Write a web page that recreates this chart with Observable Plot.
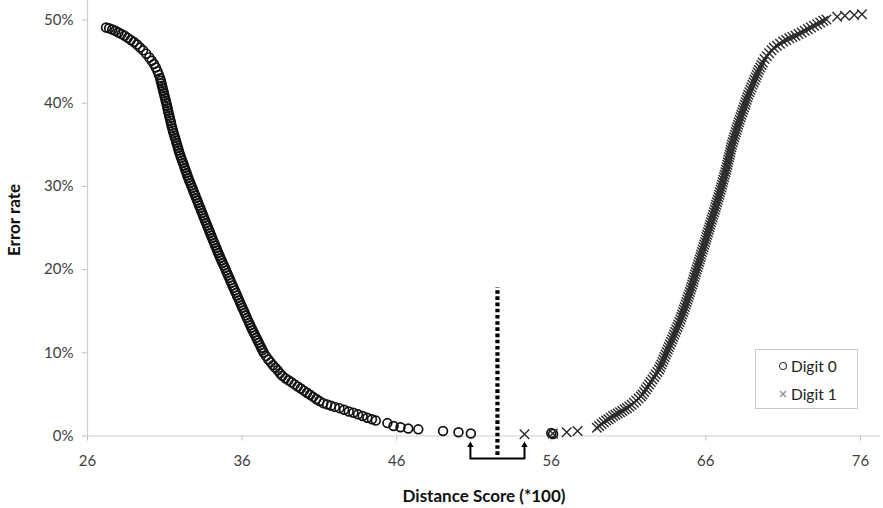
<!DOCTYPE html>
<html>
<head>
<meta charset="utf-8">
<script src="https://cdn.jsdelivr.net/npm/d3@7"></script>
<script src="https://cdn.jsdelivr.net/npm/@observablehq/plot@0.6"></script>
<style>
  html, body { margin: 0; padding: 0; background: #fff; }
  #wrap { position: relative; width: 883px; height: 508px; font-family: Lato, "Open Sans", sans-serif; }
  #wrap svg.plot { position: absolute; left: 0; top: 0; }
  .ytitle { position: absolute; left: 13px; top: 220px; transform: translate(-50%, -50%) rotate(-90deg); font-weight: 700; font-size: 17px; color: #111; white-space: nowrap; }
  .xtitle { position: absolute; left: 484px; top: 495px; transform: translate(-50%, -50%); font-weight: 700; font-size: 17px; color: #111; white-space: nowrap; }
  .legend { position: absolute; left: 755px; top: 349px; width: 101px; height: 58px; border: 1px solid #c8c8c8; background: #fff; }
  .legend .row { position: absolute; left: 22px; font-size: 15.5px; color: #222; display: flex; align-items: center; gap: 3px; }
</style>
</head>
<body>
<div id="wrap"></div>
<script>
// ---- data (x = distance score *100, y = error rate in %) ----
const digit0Points = [
  [27.2,49.1],[27.4,49.0],[27.6,48.85],[27.8,48.7],[28.0,48.5],[28.2,48.3],[28.4,48.1],[28.6,47.85],[28.8,47.6],[29.0,47.35],
  [29.2,47.05],[29.4,46.7],[29.6,46.35],[29.8,45.95],[30.0,45.5],[30.15,45.1],[30.3,44.7],[30.42,44.3],[30.53,43.85],[30.62,43.4],
  [30.70,43.0],[30.74,42.7],[30.78,42.4],[30.82,42.1],[30.86,41.8],[30.90,41.5],[30.94,41.2],[30.98,40.9],[31.02,40.6],[31.06,40.3],
  [31.10,40.0],[31.14,39.7],[31.18,39.4],[31.21,39.1],[31.25,38.8],[31.29,38.5],[31.33,38.2],[31.37,37.9],[31.40,37.6],[31.44,37.3],
  [31.48,37.0],[31.53,36.7],[31.57,36.4],[31.62,36.1],[31.67,35.8],[31.72,35.5],[31.76,35.2],[31.81,34.9],[31.86,34.6],[31.90,34.3],
  [31.95,34.0],[32.01,33.7],[32.06,33.4],[32.12,33.1],[32.18,32.8],[32.24,32.5],[32.29,32.2],[32.35,31.9],[32.41,31.6],[32.46,31.3],
  [32.52,31.0],[32.58,30.7],[32.65,30.4],[32.71,30.1],[32.78,29.8],[32.84,29.5],[32.90,29.2],[32.97,28.9],[33.03,28.6],[33.10,28.3],
  [33.16,28.0],[33.22,27.7],[33.29,27.4],[33.35,27.1],[33.42,26.8],[33.48,26.5],[33.54,26.2],[33.61,25.9],[33.67,25.6],[33.74,25.3],
  [33.80,25.0],[33.87,24.7],[33.93,24.4],[34.00,24.1],[34.06,23.8],[34.13,23.5],[34.20,23.2],[34.26,22.9],[34.33,22.6],[34.39,22.3],
  [34.46,22.0],[34.53,21.7],[34.60,21.4],[34.67,21.1],[34.74,20.8],[34.82,20.5],[34.89,20.2],[34.96,19.9],[35.03,19.6],[35.10,19.3],
  [35.17,19.0],[35.24,18.7],[35.31,18.4],[35.38,18.1],[35.45,17.8],[35.53,17.5],[35.60,17.2],[35.67,16.9],[35.74,16.6],[35.81,16.3],
  [35.88,16.0],[35.95,15.7],[36.02,15.4],[36.10,15.1],[36.17,14.8],[36.24,14.5],[36.31,14.2],[36.38,13.9],[36.46,13.6],[36.53,13.3],
  [36.60,13.0],[36.68,12.7],[36.76,12.4],[36.84,12.1],[36.92,11.8],[37.00,11.5],[37.08,11.2],[37.16,10.9],[37.24,10.6],[37.32,10.3],
  [37.40,10.0],[37.55,9.6],[37.7,9.2],[37.85,8.85],[38.0,8.5],[38.15,8.2],[38.3,7.9],[38.45,7.55],[38.6,7.25],[38.8,6.95],
  [39.0,6.7],[39.2,6.45],[39.4,6.2],[39.6,5.95],[39.8,5.7],[40.0,5.45],[40.2,5.2],[40.4,4.95],[40.6,4.7],[40.8,4.45],
  [41.0,4.2],[41.25,3.95],[41.5,3.8],[41.75,3.65],[42.0,3.5],[42.3,3.35],[42.6,3.15],[42.9,2.95],[43.2,2.8],[43.5,2.6],
  [43.8,2.4],[44.1,2.2],[44.4,2.0],[44.65,1.85],
  [45.4,1.55],[45.8,1.2],[46.25,1.05],[46.75,0.9],[47.4,0.8],[49.0,0.6],[50.0,0.45],[50.8,0.3],[56.0,0.35],[56.12,0.25]
];

const digit1Points = [
  [54.27,0.2],[56.1,0.3],[57.0,0.45],[57.7,0.6],[58.95,1.0],[59.1,1.2],[59.25,1.45],[59.4,1.65],[59.55,1.85],[59.7,2.0],
  [59.85,2.2],[60.0,2.4],[60.15,2.55],[60.3,2.7],[60.45,2.85],[60.6,3.0],[60.75,3.2],[60.9,3.35],[61.05,3.55],[61.2,3.75],
  [61.35,4.0],[61.5,4.25],[61.65,4.5],[61.8,4.75],
  [61.90,5.0],[62.01,5.3],[62.12,5.6],[62.22,5.9],[62.33,6.2],[62.44,6.5],[62.55,6.8],[62.66,7.1],[62.76,7.4],[62.87,7.7],
  [62.98,8.0],[63.05,8.3],[63.12,8.6],[63.19,8.9],[63.26,9.2],[63.33,9.5],[63.40,9.8],[63.47,10.1],[63.54,10.4],[63.61,10.7],
  [63.68,11.0],[63.75,11.3],[63.82,11.6],[63.88,11.9],[63.95,12.2],[64.02,12.5],[64.09,12.8],[64.16,13.1],[64.22,13.4],[64.29,13.7],
  [64.36,14.0],[64.42,14.3],[64.47,14.6],[64.53,14.9],[64.58,15.2],[64.64,15.5],[64.70,15.8],[64.75,16.1],[64.81,16.4],[64.86,16.7],
  [64.92,17.0],[64.97,17.3],[65.02,17.6],[65.07,17.9],[65.12,18.2],[65.17,18.5],[65.21,18.8],[65.26,19.1],[65.31,19.4],[65.36,19.7],
  [65.41,20.0],[65.46,20.3],[65.51,20.6],[65.56,20.9],[65.61,21.2],[65.66,21.5],[65.70,21.8],[65.75,22.1],[65.80,22.4],[65.85,22.7],
  [65.90,23.0],[65.95,23.3],[66.00,23.6],[66.04,23.9],[66.09,24.2],[66.14,24.5],[66.19,24.8],[66.24,25.1],[66.28,25.4],[66.33,25.7],
  [66.38,26.0],[66.43,26.3],[66.48,26.6],[66.53,26.9],[66.58,27.2],[66.63,27.5],[66.67,27.8],[66.72,28.1],[66.77,28.4],[66.82,28.7],
  [66.87,29.0],[66.91,29.3],[66.96,29.6],[67.00,29.9],[67.05,30.2],[67.09,30.5],[67.13,30.8],[67.18,31.1],[67.22,31.4],[67.27,31.7],
  [67.31,32.0],[67.35,32.3],[67.39,32.6],[67.42,32.9],[67.46,33.2],[67.50,33.5],[67.54,33.8],[67.58,34.1],[67.61,34.4],[67.65,34.7],
  [67.69,35.0],[67.74,35.3],[67.79,35.6],[67.84,35.9],[67.89,36.2],[67.94,36.5],[67.99,36.8],[68.04,37.1],[68.09,37.4],[68.14,37.7],
  [68.19,38.0],[68.25,38.3],[68.30,38.6],[68.36,38.9],[68.41,39.2],[68.47,39.5],[68.53,39.8],[68.58,40.1],[68.64,40.4],[68.69,40.7],
  [68.75,41.0],[68.82,41.3],[68.89,41.6],[68.95,41.9],[69.02,42.2],[69.09,42.5],[69.16,42.8],[69.23,43.1],[69.29,43.4],[69.36,43.7],
  [69.43,44.0],[69.52,44.3],[69.60,44.6],[69.68,44.9],
  [69.8,45.3],[69.95,45.65],[70.1,46.0],[70.25,46.35],[70.4,46.65],[70.6,46.9],[70.8,47.15],[71.0,47.4],[71.2,47.6],[71.4,47.8],
  [71.6,47.95],[71.8,48.1],[72.0,48.3],[72.2,48.5],[72.4,48.7],[72.6,48.9],[72.8,49.1],[73.0,49.3],[73.2,49.5],[73.4,49.7],
  [73.6,49.9],[73.8,50.05],[74.5,50.4],[75.0,50.5],[75.6,50.6],[76.1,50.7]
];

const xTicks = [26, 36, 46, 56, 66, 76];
const yTicks = [0, 10, 20, 30, 40, 50];
const seriesNames = ["Digit 0", "Digit 1"];
const xTitle = "Distance Score (*100)";
const yTitle = "Error rate";

// annotation: decision threshold (dotted) and the gap bracket between the two classes
const thresholdX = [52.52];
const thresholdSpan = [-2.34, 17.85];
const bracketX = [50.77, 54.27];
const bracketSpan = [-2.7, -1.1];

// ---- chart ----
const bracketPath = [
  [bracketX[0], bracketSpan[1]], [bracketX[0], bracketSpan[0]],
  [bracketX[1], bracketSpan[0]], [bracketX[1], bracketSpan[1]]
];

const chart = Plot.plot({
  width: 883,
  height: 508,
  marginLeft: 87,
  marginRight: 3,
  marginTop: 0,
  marginBottom: 72.5,
  style: { fontFamily: "Lato, 'Open Sans', sans-serif", fontSize: "15px", background: "#fff" },
  x: { domain: [26, 77.3] },
  y: { domain: [0, 52.34] },
  marks: [
    Plot.ruleX([26], { stroke: "#cfcfcf", strokeWidth: 1.2 }),
    Plot.ruleY([0], { stroke: "#cfcfcf", strokeWidth: 1.2 }),
    Plot.axisY({ ticks: yTicks, tickFormat: d => d + "%", tickSize: 5, tickPadding: 9, stroke: "#bfbfbf", color: "#404040", label: null }),
    Plot.axisX({ ticks: xTicks, tickFormat: d => String(d), tickSize: 5, tickPadding: 14, stroke: "#bfbfbf", color: "#404040", label: null }),
    Plot.dot(digit0Points, { x: d => d[0], y: d => d[1], r: 4.4, stroke: "#111", strokeWidth: 1.7, fill: "none" }),
    Plot.dot(digit1Points, { x: d => d[0], y: d => d[1], r: 4.4, symbol: "times", stroke: "#2a2a2a", strokeWidth: 1.4 }),
    Plot.ruleX(thresholdX, { y1: thresholdSpan[0], y2: thresholdSpan[1], stroke: "#000", strokeWidth: 4.2, strokeDasharray: "3.6 2.6" }),
    Plot.line(bracketPath, { x: d => d[0], y: d => d[1], stroke: "#000", strokeWidth: 2 }),
    Plot.dot(bracketX, { x: d => d, y: bracketSpan[1], symbol: "triangle", r: 2.4, fill: "#000", stroke: "none" })
  ]
});
chart.classList.add("plot");
const wrap = document.getElementById("wrap");
wrap.appendChild(chart);

const yt = document.createElement("div"); yt.className = "ytitle"; yt.textContent = yTitle; wrap.appendChild(yt);
const xt = document.createElement("div"); xt.className = "xtitle"; xt.textContent = xTitle; wrap.appendChild(xt);

const legend = document.createElement("div");
legend.className = "legend";
legend.innerHTML =
  `<div class="row" style="top:7px"><svg width="10" height="10"><circle cx="5" cy="5" r="3.5" fill="none" stroke="#333" stroke-width="1.1"/></svg><span>${seriesNames[0]}</span></div>` +
  `<div class="row" style="top:35px"><svg width="10" height="10"><path d="M2,2L8,8M8,2L2,8" stroke="#888" stroke-width="1.1"/></svg><span>${seriesNames[1]}</span></div>`;
wrap.appendChild(legend);
</script>
</body>
</html>
